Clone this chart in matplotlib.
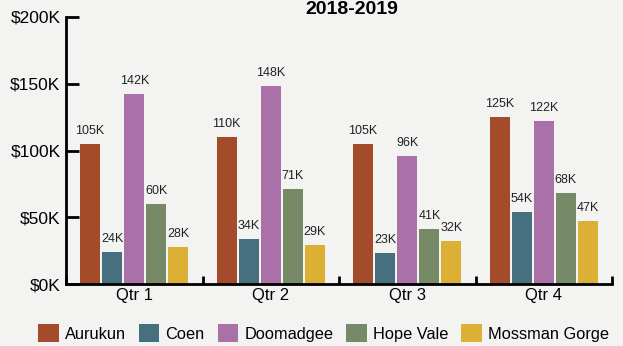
import matplotlib.pyplot as plt
import numpy as np

plt.rcParams['font.family'] = ['Liberation Sans', 'DejaVu Sans']

quarters = ['Qtr 1', 'Qtr 2', 'Qtr 3', 'Qtr 4']
communities = ['Aurukun', 'Coen', 'Doomadgee', 'Hope Vale', 'Mossman Gorge']
aurukun = [105, 110, 105, 125]
coen = [24, 34, 23, 54]
doomadgee = [142, 148, 96, 122]
hope_vale = [60, 71, 41, 68]
mossman = [28, 29, 32, 47]
series = [aurukun, coen, doomadgee, hope_vale, mossman]
colors = ['#a44b2c', '#46707f', '#a971a8', '#778a67', '#dcb035']

bg = '#f3f3f2'
fig = plt.figure(figsize=(6.23, 3.46), dpi=100, facecolor=bg)
ax = fig.add_axes([66/623, 1-284/346, (612-66)/623, (284-17)/346])
ax.set_facecolor(bg)

x = np.arange(len(quarters))
step = 22/136
width = 20/136
for i, (name, vals, c) in enumerate(zip(communities, series, colors)):
    pos = x + (i - 2) * step
    ax.bar(pos, vals, width, color=c, label=name)
    for xp, v in zip(pos, vals):
        ax.annotate(f'{v}K', (xp, v), xytext=(0, 5), textcoords='offset points',
                    ha='center', va='bottom', fontsize=9, color='#222222')

ax.set_xlim(-0.5, 3.5)
ax.set_ylim(0, 200)
ax.set_yticks([0, 50, 100, 150, 200])
ax.set_yticklabels(['$0K', '$50K', '$100K', '$150K', '$200K'], fontsize=12.5)
ax.set_xticks(x)
ax.set_xticklabels(quarters, fontsize=12)
ax.tick_params(axis='x', length=0, pad=3)
ax.tick_params(axis='y', direction='in', length=9, width=2, pad=4)
# category boundary ticks on the x axis
ax.set_xticks([-0.5, 0.5, 1.5, 2.5, 3.5], minor=True)
ax.tick_params(axis='x', which='minor', direction='in', length=6, width=2)

for s in ['top', 'right']:
    ax.spines[s].set_visible(False)
ax.spines['left'].set_linewidth(2)
ax.spines['bottom'].set_linewidth(2)

fig.text(352/623, 1-10/346, '2018-2019', ha='center', va='center',
         fontsize=14, fontweight='bold')

fig.legend(loc='center left', bbox_to_anchor=(38/623, 1-333/346), ncol=5,
           frameon=False, fontsize=11.8, handlelength=1.26, handleheight=1.26,
           handletextpad=0.36, columnspacing=0.8, borderaxespad=0,
           borderpad=0)

fig.savefig('out.png', dpi=100, facecolor=bg)
